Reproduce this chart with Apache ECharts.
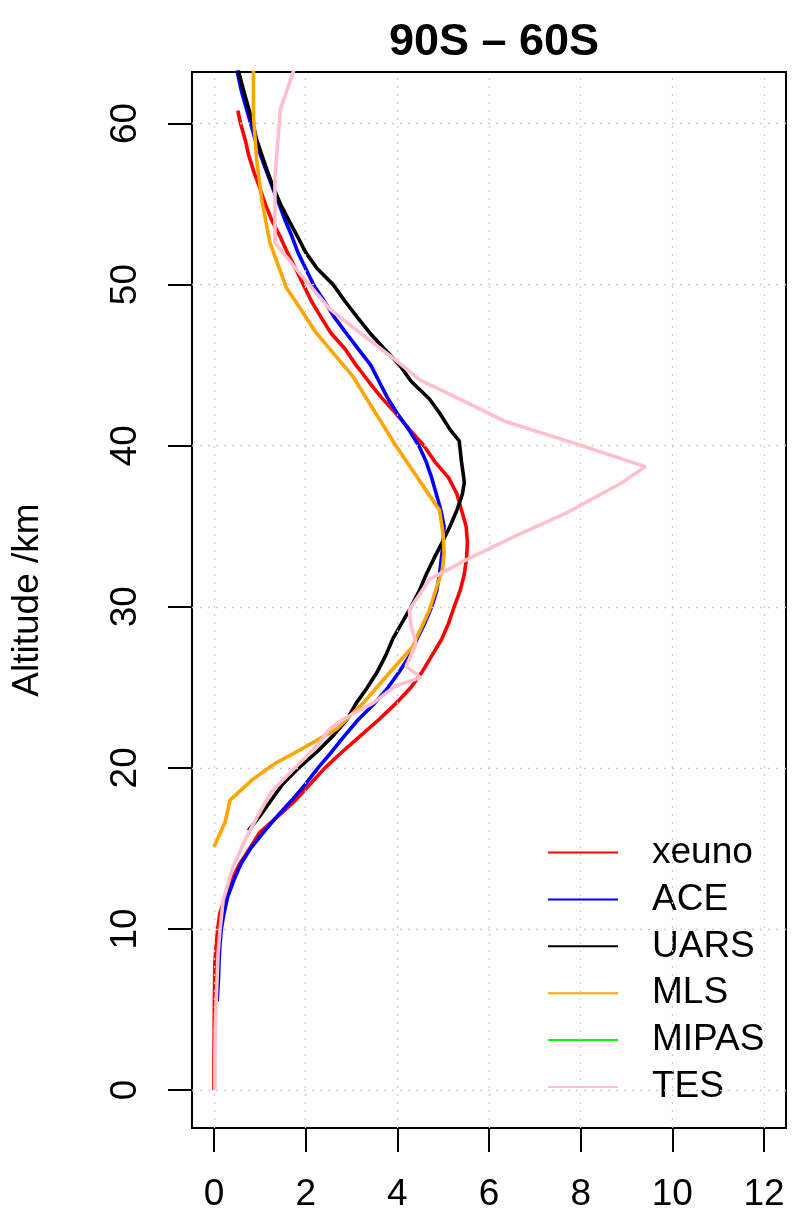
<!DOCTYPE html>
<html>
<head>
<meta charset="utf-8">
<script src="https://cdn.jsdelivr.net/npm/echarts@6/dist/echarts.min.js"></script>
<style>
html,body{margin:0;padding:0;background:#fff;}
#chart{width:794px;height:1224px;}
</style>
</head>
<body>
<div id="chart"></div>
<script>
// ---- data (altitude km, value) ----
var xTicks = [0, 2, 4, 6, 8, 10, 12];
var yTicks = [0, 10, 20, 30, 40, 50, 60];
var seriesNames = ["xeuno", "ACE", "UARS", "MLS", "MIPAS", "TES"];

var xeunoAlt = [0, 2, 4, 6, 8, 9, 10, 11, 12, 13, 14, 15, 16, 17, 18, 19, 20, 21, 22, 23, 24, 25, 26, 27, 28, 29, 30, 31, 32, 33, 34, 35, 36, 37, 38, 39, 40, 41, 42, 43, 44, 45, 46, 47, 48, 49, 50, 51, 52, 53, 54, 55, 56, 57, 58, 59, 60, 60.8];
var xeunoVal = [0, 0, 0.005, 0.01, 0.02, 0.05, 0.08, 0.13, 0.25, 0.38, 0.55, 0.78, 1.0, 1.4, 1.78, 2.1, 2.42, 2.8, 3.2, 3.6, 3.97, 4.3, 4.55, 4.76, 4.97, 5.12, 5.24, 5.37, 5.46, 5.51, 5.53, 5.5, 5.4, 5.3, 5.12, 4.82, 4.58, 4.27, 3.97, 3.65, 3.37, 3.1, 2.86, 2.55, 2.33, 2.12, 1.95, 1.78, 1.6, 1.44, 1.26, 1.12, 1.0, 0.87, 0.76, 0.68, 0.58, 0.52];

var aceAlt = [5.5, 7, 8, 9, 10, 11, 12, 13, 14, 15, 16, 17, 18, 19, 20, 21, 22, 23, 24, 25, 26, 27, 28, 29, 30, 31, 32, 33, 34, 35, 36, 37, 38, 39, 40, 41, 42, 43, 44, 45, 46, 47, 48, 49, 50, 51, 52, 53, 54, 55, 56, 57, 58, 59, 60, 61, 62, 63.3];
var aceVal = [0.07, 0.1, 0.11, 0.13, 0.16, 0.22, 0.3, 0.43, 0.58, 0.8, 1.08, 1.38, 1.7, 2.0, 2.27, 2.57, 2.85, 3.15, 3.5, 3.8, 4.05, 4.28, 4.43, 4.6, 4.75, 4.86, 4.92, 4.96, 5.0, 5.02, 4.95, 4.85, 4.75, 4.63, 4.47, 4.25, 4.0, 3.78, 3.6, 3.42, 3.15, 2.88, 2.62, 2.4, 2.17, 2.0, 1.83, 1.7, 1.55, 1.42, 1.28, 1.15, 1.02, 0.9, 0.8, 0.7, 0.6, 0.5];

var uarsAlt = [16.1, 17, 18, 19, 20, 21, 22, 23, 24, 25, 26, 27, 28, 29, 30, 31, 32, 33, 34, 35, 36, 37, 37.7, 38, 39, 40.3, 41, 42, 42.9, 44, 45, 46, 47, 48, 49, 50, 51, 52, 53, 54, 55, 56, 57, 58, 59, 60, 61, 62, 63.3];
var uarsVal = [0.75, 1.0, 1.25, 1.5, 1.85, 2.25, 2.6, 2.9, 3.1, 3.35, 3.57, 3.75, 3.9, 4.1, 4.3, 4.48, 4.63, 4.8, 4.98, 5.15, 5.3, 5.42, 5.46, 5.45, 5.4, 5.35, 5.15, 4.93, 4.7, 4.3, 4.05, 3.72, 3.4, 3.12, 2.85, 2.6, 2.25, 2.0, 1.82, 1.63, 1.45, 1.3, 1.17, 1.05, 0.93, 0.85, 0.75, 0.65, 0.53];

var mlsAlt = [15.1, 16.6, 18.0, 19.3, 20.3, 21.1, 22.4, 24.0, 25.9, 27.5, 29.8, 32.3, 33.3, 34.5, 36.0, 40.0, 44.3, 47.0, 48.0, 49.8, 52.6, 55.3, 57.8, 60.5, 63.3];
var mlsVal = [0.0, 0.24, 0.35, 0.85, 1.35, 1.87, 2.67, 3.25, 3.83, 4.33, 4.7, 4.98, 5.02, 5.0, 4.92, 3.97, 3.03, 2.23, 2.0, 1.58, 1.22, 1.04, 0.93, 0.86, 0.86];

var mipasAlt = [];
var mipasVal = [];

var tesAlt = [0, 2.3, 4, 6.4, 8.5, 9.9, 11.8, 13.9, 15.7, 17, 18.5, 20.1, 21.3, 22.4, 23.0, 24.0, 25.1, 25.6, 26.3, 27.7, 28.8, 29.8, 31.7, 32.9, 34.4, 35.8, 37.7, 38.7, 40.0, 41.5, 42.9, 44.1, 45.3, 47.2, 48.5, 50.7, 52.6, 56.7, 60.9, 63.3];
var tesVal = [0.02, 0.02, 0.03, 0.06, 0.09, 0.13, 0.2, 0.42, 0.71, 0.95, 1.25, 1.8, 2.23, 2.52, 2.81, 3.46, 3.97, 4.51, 4.19, 4.41, 4.3, 4.26, 4.7, 5.49, 6.58, 7.67, 8.9, 9.41, 8.03, 6.36, 5.35, 4.48, 3.97, 3.1, 2.52, 1.87, 1.33, 1.33, 1.45, 1.74];

// ---- build ----
function zip(vals, alts) { return vals.map(function (v, i) { return [v, alts[i]]; }); }
var colors = ["#FF0000", "#0000FF", "#000000", "#FFA500", "#00FF00", "#FFC0CB"];
var dataSets = [zip(xeunoVal, xeunoAlt), zip(aceVal, aceAlt), zip(uarsVal, uarsAlt), zip(mlsVal, mlsAlt), zip(mipasVal, mipasAlt), zip(tesVal, tesAlt)];

var FONT = '"Liberation Sans", Arial, Helvetica, sans-serif';
var gridSeries = {
  name: "__grid", type: "line", data: [], silent: true, z: 1,
  markLine: {
    silent: true, symbol: "none", label: { show: false },
    lineStyle: { color: "#cfcfcf", type: [2, 6], width: 1.3 },
    animation: false,
    data: xTicks.map(function (v) { return { xAxis: v }; }).concat(yTicks.map(function (v) { return { yAxis: v }; }))
  }
};
var series = [gridSeries].concat(seriesNames.map(function (n, i) {
  return {
    name: n, type: "line", data: dataSets[i], symbol: "none", showSymbol: false,
    color: colors[i], lineStyle: { color: colors[i], width: 3.6 }, z: 2 + i, animation: false
  };
}));

var chart = echarts.init(document.getElementById("chart"), null, { renderer: "canvas" });
chart.setOption({
  backgroundColor: "#ffffff",
  animation: false,
  title: {
    text: "90S \u2013 60S", left: 489, top: 15, textAlign: "center",
    textStyle: { fontFamily: FONT, fontSize: 45, fontWeight: "bold", color: "#000" }
  },
  grid: { left: 192, top: 72, right: 8, bottom: 96, show: true, borderColor: "#000", borderWidth: 2, backgroundColor: "transparent" },
  xAxis: {
    type: "value", min: -0.48, max: 12.48,
    axisLine: { show: false, onZero: false },
    splitLine: { show: false },
    axisTick: { show: true, inside: false, customValues: xTicks, length: 24, lineStyle: { color: "#000", width: 2, type: "solid" } },
    axisLabel: { customValues: xTicks, margin: 48, fontFamily: FONT, fontSize: 37, color: "#000" }
  },
  yAxis: {
    type: "value", min: -2.36, max: 63.2,
    name: "Altitude /km", nameLocation: "middle", nameRotate: 90, nameGap: 146,
    nameTextStyle: { fontFamily: FONT, fontSize: 37, color: "#000" },
    axisLine: { show: false, onZero: false },
    splitLine: { show: false },
    axisTick: { show: true, inside: false, customValues: yTicks, length: 24, lineStyle: { color: "#000", width: 2, type: "solid" } },
    axisLabel: { customValues: yTicks, rotate: 90, margin: 48, fontFamily: FONT, fontSize: 37, color: "#000" }
  },
  legend: {
    data: seriesNames, orient: "vertical", left: 543, top: 829,
    itemWidth: 70, itemHeight: 14, itemGap: 9.9,
    icon: "path://M0,6 L70,6 L70,8 L0,8 Z",
    textStyle: { fontFamily: FONT, fontSize: 37, color: "#000", lineHeight: 36, padding: [0, 0, 0, 29] },
    selectedMode: false
  },
  series: series
});
</script>
</body>
</html>
